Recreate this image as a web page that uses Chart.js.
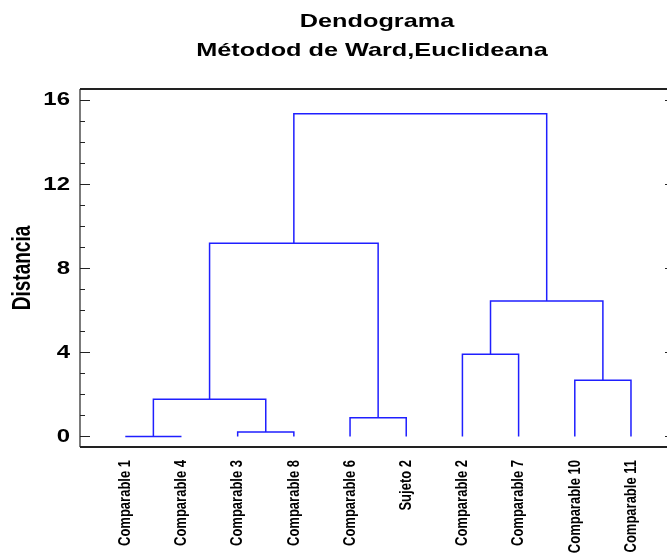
<!DOCTYPE html>
<html>
<head>
<meta charset="utf-8">
<script src="https://cdn.jsdelivr.net/npm/chart.js@4.4.1/dist/chart.umd.min.js"></script>
<style>
  html, body { margin: 0; padding: 0; background: #fff; overflow: hidden; }
</style>
</head>
<body>
<canvas id="myChart" width="667" height="555"></canvas>
<script>
// leaves in dendrogram order
var leafLabels = ['Comparable 1', 'Comparable 4', 'Comparable 3', 'Comparable 8', 'Comparable 6',
  'Sujeto 2', 'Comparable 2', 'Comparable 7', 'Comparable 10', 'Comparable 11'];
// merges: node ids 0-9 are leaves, merge i creates node 10 + i
var mergeLeft = [0, 2, 4, 10, 8, 6, 15, 13, 17];
var mergeRight = [1, 3, 5, 11, 9, 7, 14, 12, 16];
var mergeHeight = [0.0, 0.21, 0.89, 1.77, 2.67, 3.91, 6.43, 9.17, 15.32];
var yMajorTicks = [0, 4, 8, 12, 16];
var yMinorTicks = [1, 2, 3, 5, 6, 7, 9, 10, 11, 13, 14, 15];

var titleLines = ['Dendograma', 'Métodod de Ward,Euclideana'];
var yTitle = 'Distancia';

// node positions (x = leaf slot, y = height)
var nodeX = [], nodeY = [];
leafLabels.forEach(function (l, i) { nodeX.push(i + 1); nodeY.push(0); });

var datasets = [];
for (var i = 0; i < mergeHeight.length; i++) {
  var a = mergeLeft[i], b = mergeRight[i], h = mergeHeight[i];
  datasets.push({
    data: [
      { x: nodeX[a], y: nodeY[a] },
      { x: nodeX[a], y: h },
      { x: nodeX[b], y: h },
      { x: nodeX[b], y: nodeY[b] }
    ],
    showLine: true,
    borderColor: '#1f1fff',
    borderWidth: 1.5,
    pointRadius: 0,
    tension: 0
  });
  nodeX.push((nodeX[a] + nodeX[b]) / 2);
  nodeY.push(h);
}

var FONT = '"Liberation Sans", Arial, sans-serif';
var SX = 1.33; // the original picture is stretched sideways

function stretchText(ctx, text, x, y, rot, align, baseline, font) {
  ctx.save();
  ctx.translate(x, y);
  ctx.scale(SX, 1);
  ctx.rotate(rot);
  ctx.font = font;
  ctx.textAlign = align;
  ctx.textBaseline = baseline;
  ctx.fillStyle = '#000';
  ctx.fillText(text, 0, 0);
  ctx.restore();
}

var framePlugin = {
  id: 'frame',
  afterDraw: function (chart) {
    var ctx = chart.ctx, area = chart.chartArea;
    var xs = chart.scales.x, ys = chart.scales.y;

    ctx.save();
    ctx.strokeStyle = '#222';
    // top and bottom lines
    ctx.lineWidth = 2;
    ctx.beginPath();
    ctx.moveTo(area.left, area.top); ctx.lineTo(area.right, area.top);
    ctx.moveTo(area.left, area.bottom); ctx.lineTo(area.right, area.bottom);
    ctx.stroke();
    // left axis
    ctx.lineWidth = 1.2;
    ctx.beginPath();
    ctx.moveTo(area.left, area.top); ctx.lineTo(area.left, area.bottom);
    ctx.stroke();
    // ticks inside the frame
    ctx.beginPath();
    yMajorTicks.forEach(function (v) {
      var py = Math.round(ys.getPixelForValue(v)) + 0.5;
      ctx.moveTo(area.left, py); ctx.lineTo(area.left + 10, py);
      ctx.moveTo(area.right - 2, py); ctx.lineTo(area.right, py);
    });
    yMinorTicks.forEach(function (v) {
      var py = Math.round(ys.getPixelForValue(v)) + 0.5;
      ctx.moveTo(area.left, py); ctx.lineTo(area.left + 5, py);
    });
    ctx.lineWidth = 1;
    ctx.stroke();
    ctx.restore();

    // y labels
    yMajorTicks.forEach(function (v) {
      stretchText(ctx, String(v), area.left - 10, ys.getPixelForValue(v) + 1, 0,
        'right', 'middle', 'bold 18px ' + FONT);
    });
    // y title
    stretchText(ctx, yTitle, 23, (area.top + area.bottom) / 2, -Math.PI / 2,
      'center', 'middle', 'bold 19px ' + FONT);
    // x labels
    leafLabels.forEach(function (l, i) {
      stretchText(ctx, l, xs.getPixelForValue(i + 1), area.bottom + 13, -Math.PI / 2,
        'right', 'middle', 'bold 13px ' + FONT);
    });
    // title
    stretchText(ctx, titleLines[0], 377, 27, 0, 'center', 'alphabetic', 'bold 19px ' + FONT);
    stretchText(ctx, titleLines[1], 372, 56, 0, 'center', 'alphabetic', 'bold 19px ' + FONT);
  }
};

var ctx = document.getElementById('myChart').getContext('2d');
var myChart = new Chart(ctx, {
  type: 'scatter',
  data: { datasets: datasets },
  options: {
    responsive: false,
    animation: false,
    layout: { padding: { left: 80, top: 89, right: 0, bottom: 108 } },
    scales: {
      x: { type: 'linear', min: 0.194, max: 10.641, display: false },
      y: { type: 'linear', min: -0.5, max: 16.5, display: false }
    },
    plugins: {
      legend: { display: false },
      tooltip: { enabled: false }
    }
  },
  plugins: [framePlugin]
});
</script>
</body>
</html>
